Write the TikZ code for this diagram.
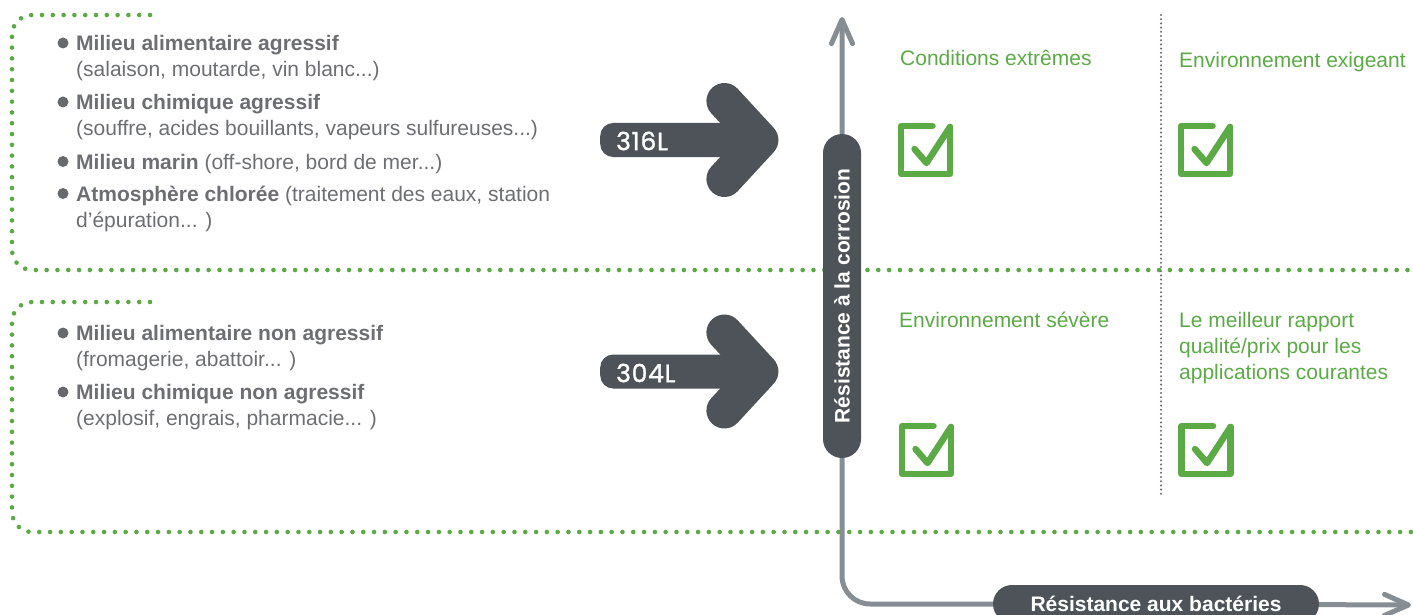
\documentclass[tikz,border=0pt]{standalone}
\usepackage{fontspec}
\setmainfont{Liberation Sans}
\newfontfamily\numfont[FakeBold=1.2,LetterSpace=3]{Poppins}
\usetikzlibrary{arrows.meta,shapes.misc}
\definecolor{dotgreen}{HTML}{5BAA46}
\definecolor{txtgray}{HTML}{6D6E71}
\definecolor{pillgray}{HTML}{4D5358}
\definecolor{axisgray}{HTML}{868D93}
\definecolor{bulletgray}{HTML}{68696C}
\tikzset{
  greendots/.style={draw=dotgreen, line width=4.6pt, line cap=round, dash pattern=on 0pt off 10.8pt, rounded corners=20pt},
  sepdots/.style={draw=txtgray, line width=2.3pt, line cap=round, dash pattern=on 0pt off 4.2pt},
  bodytext/.style={text=txtgray, font=\fontsize{21}{25}\selectfont, inner sep=0pt, anchor=base west},
  greentext/.style={text=dotgreen, font=\fontsize{21}{25}\selectfont, inner sep=0pt, anchor=base west},
  bulletdot/.style={circle, fill=bulletgray, inner sep=0pt, minimum size=11pt},
  shaft/.style={fill=pillgray, rounded corners=13pt, minimum height=34pt, minimum width=160pt, inner sep=0pt, anchor=west},
  chevron/.style={draw=pillgray, line width=36pt, line cap=round, line join=round},
  numlabel/.style={text=white, font=\numfont\fontsize{25}{25}\selectfont, inner sep=0pt, anchor=west},
  pill/.style={rounded rectangle, fill=pillgray, text=white, font=\bfseries\fontsize{21}{21}\selectfont, minimum height=38pt, inner sep=0pt},
  axisline/.style={draw=axisgray, line width=5pt},
  axtip/.style={-{Straight Barb[length=24pt,width=21pt,round]}},
  checkline/.style={draw=dotgreen, line width=6.5pt, line cap=round, line join=round},
  checkbox/.pic={
    \draw[checkline] (7,-24) -- (-24.5,-24) -- (-24.5,24) -- (24.5,24) -- (24.5,-23);
    \draw[checkline] (-11,-1) -- (1,13) -- (24.5,-23);
  }
}
\begin{document}
\begin{tikzpicture}[x=1pt, y=-1pt]
\useasboundingbox (0,0) rectangle (1413,615);
\clip (0,0) rectangle (1413,615);

% dotted group frames
\draw[greendots] (150,15) -- (12,15) -- (12,270) -- (1420,270);
\draw[greendots] (150,302) -- (12,302) -- (12,532) -- (1420,532);

% vertical separator
\draw[sepdots] (1161,15) -- (1161,497);

% upper list
\node[bulletdot] (b1) at (63,43) {};
\node[bodytext] (t1a) at (76,50.5) {\textbf{Milieu alimentaire agressif}};
\node[bodytext] (t1b) at (76,76.5) {(salaison, moutarde, vin blanc...)};
\node[bulletdot] (b2) at (63,102) {};
\node[bodytext] (t2a) at (76,109.5) {\textbf{Milieu chimique agressif}};
\node[bodytext] (t2b) at (76,135.5) {(souffre, acides bouillants, vapeurs sulfureuses...)};
\node[bulletdot] (b3) at (63,161.5) {};
\node[bodytext] (t3a) at (76,169) {\textbf{Milieu marin} (off-shore, bord de mer...)};
\node[bulletdot] (b4) at (63,193.5) {};
\node[bodytext] (t4a) at (76,201) {\textbf{Atmosphère chlorée} (traitement des eaux, station};
\node[bodytext] (t4b) at (76,227.5) {d’épuration... )};

% lower list
\node[bulletdot] (b5) at (63,333) {};
\node[bodytext] (t5a) at (76,340.5) {\textbf{Milieu alimentaire non agressif}};
\node[bodytext] (t5b) at (76,366.5) {(fromagerie, abattoir... )};
\node[bulletdot] (b6) at (63,392) {};
\node[bodytext] (t6a) at (76,399.5) {\textbf{Milieu chimique non agressif}};
\node[bodytext] (t6b) at (76,425) {(explosif, engrais, pharmacie... )};

% grade arrows
\node[shaft] (s316) at (600,140) {};
\draw[chevron] ([shift={(-36,-39)}]s316.east) -- (s316.east) -- ([shift={(-36,39)}]s316.east);
\node[numlabel] (l316) at (616,141) {316L};

\node[shaft] (s304) at (600,371.5) {};
\draw[chevron] ([shift={(-36,-39)}]s304.east) -- (s304.east) -- ([shift={(-36,39)}]s304.east);
\node[numlabel] (l304) at (616,373) {304L};

% axes
\node[pill, rotate=90, minimum width=324pt] (corr) at (842,296) {Résistance à la corrosion};
\node[pill, minimum width=326pt] (bact) at (1156,604) {Résistance aux bactéries};
\coordinate (ytip) at (842,17);
\coordinate (xtip) at (1411,605);
\draw[axisline, axtip] (corr) -- (ytip);
\draw[axisline, rounded corners=28pt] (corr) |- (bact);
\draw[axisline, axtip] (bact) -- (xtip);

% quadrant labels
\node[greentext] (q1) at (900,65.5) {Conditions extrêmes};
\node[greentext] (q2) at (1179,67.5) {Environnement exigeant};
\node[greentext] (q3) at (899,327.5) {Environnement sévère};
\node[greentext] (q4a) at (1179,327.5) {Le meilleur rapport};
\node[greentext] (q4b) at (1179,353.5) {qualité/prix pour les};
\node[greentext] (q4c) at (1179,379.5) {applications courantes};

% check boxes
\pic at (925.5,150) {checkbox};
\pic at (1205.5,150) {checkbox};
\pic at (926.5,450) {checkbox};
\pic at (1206,450) {checkbox};
\end{tikzpicture}
\end{document}
